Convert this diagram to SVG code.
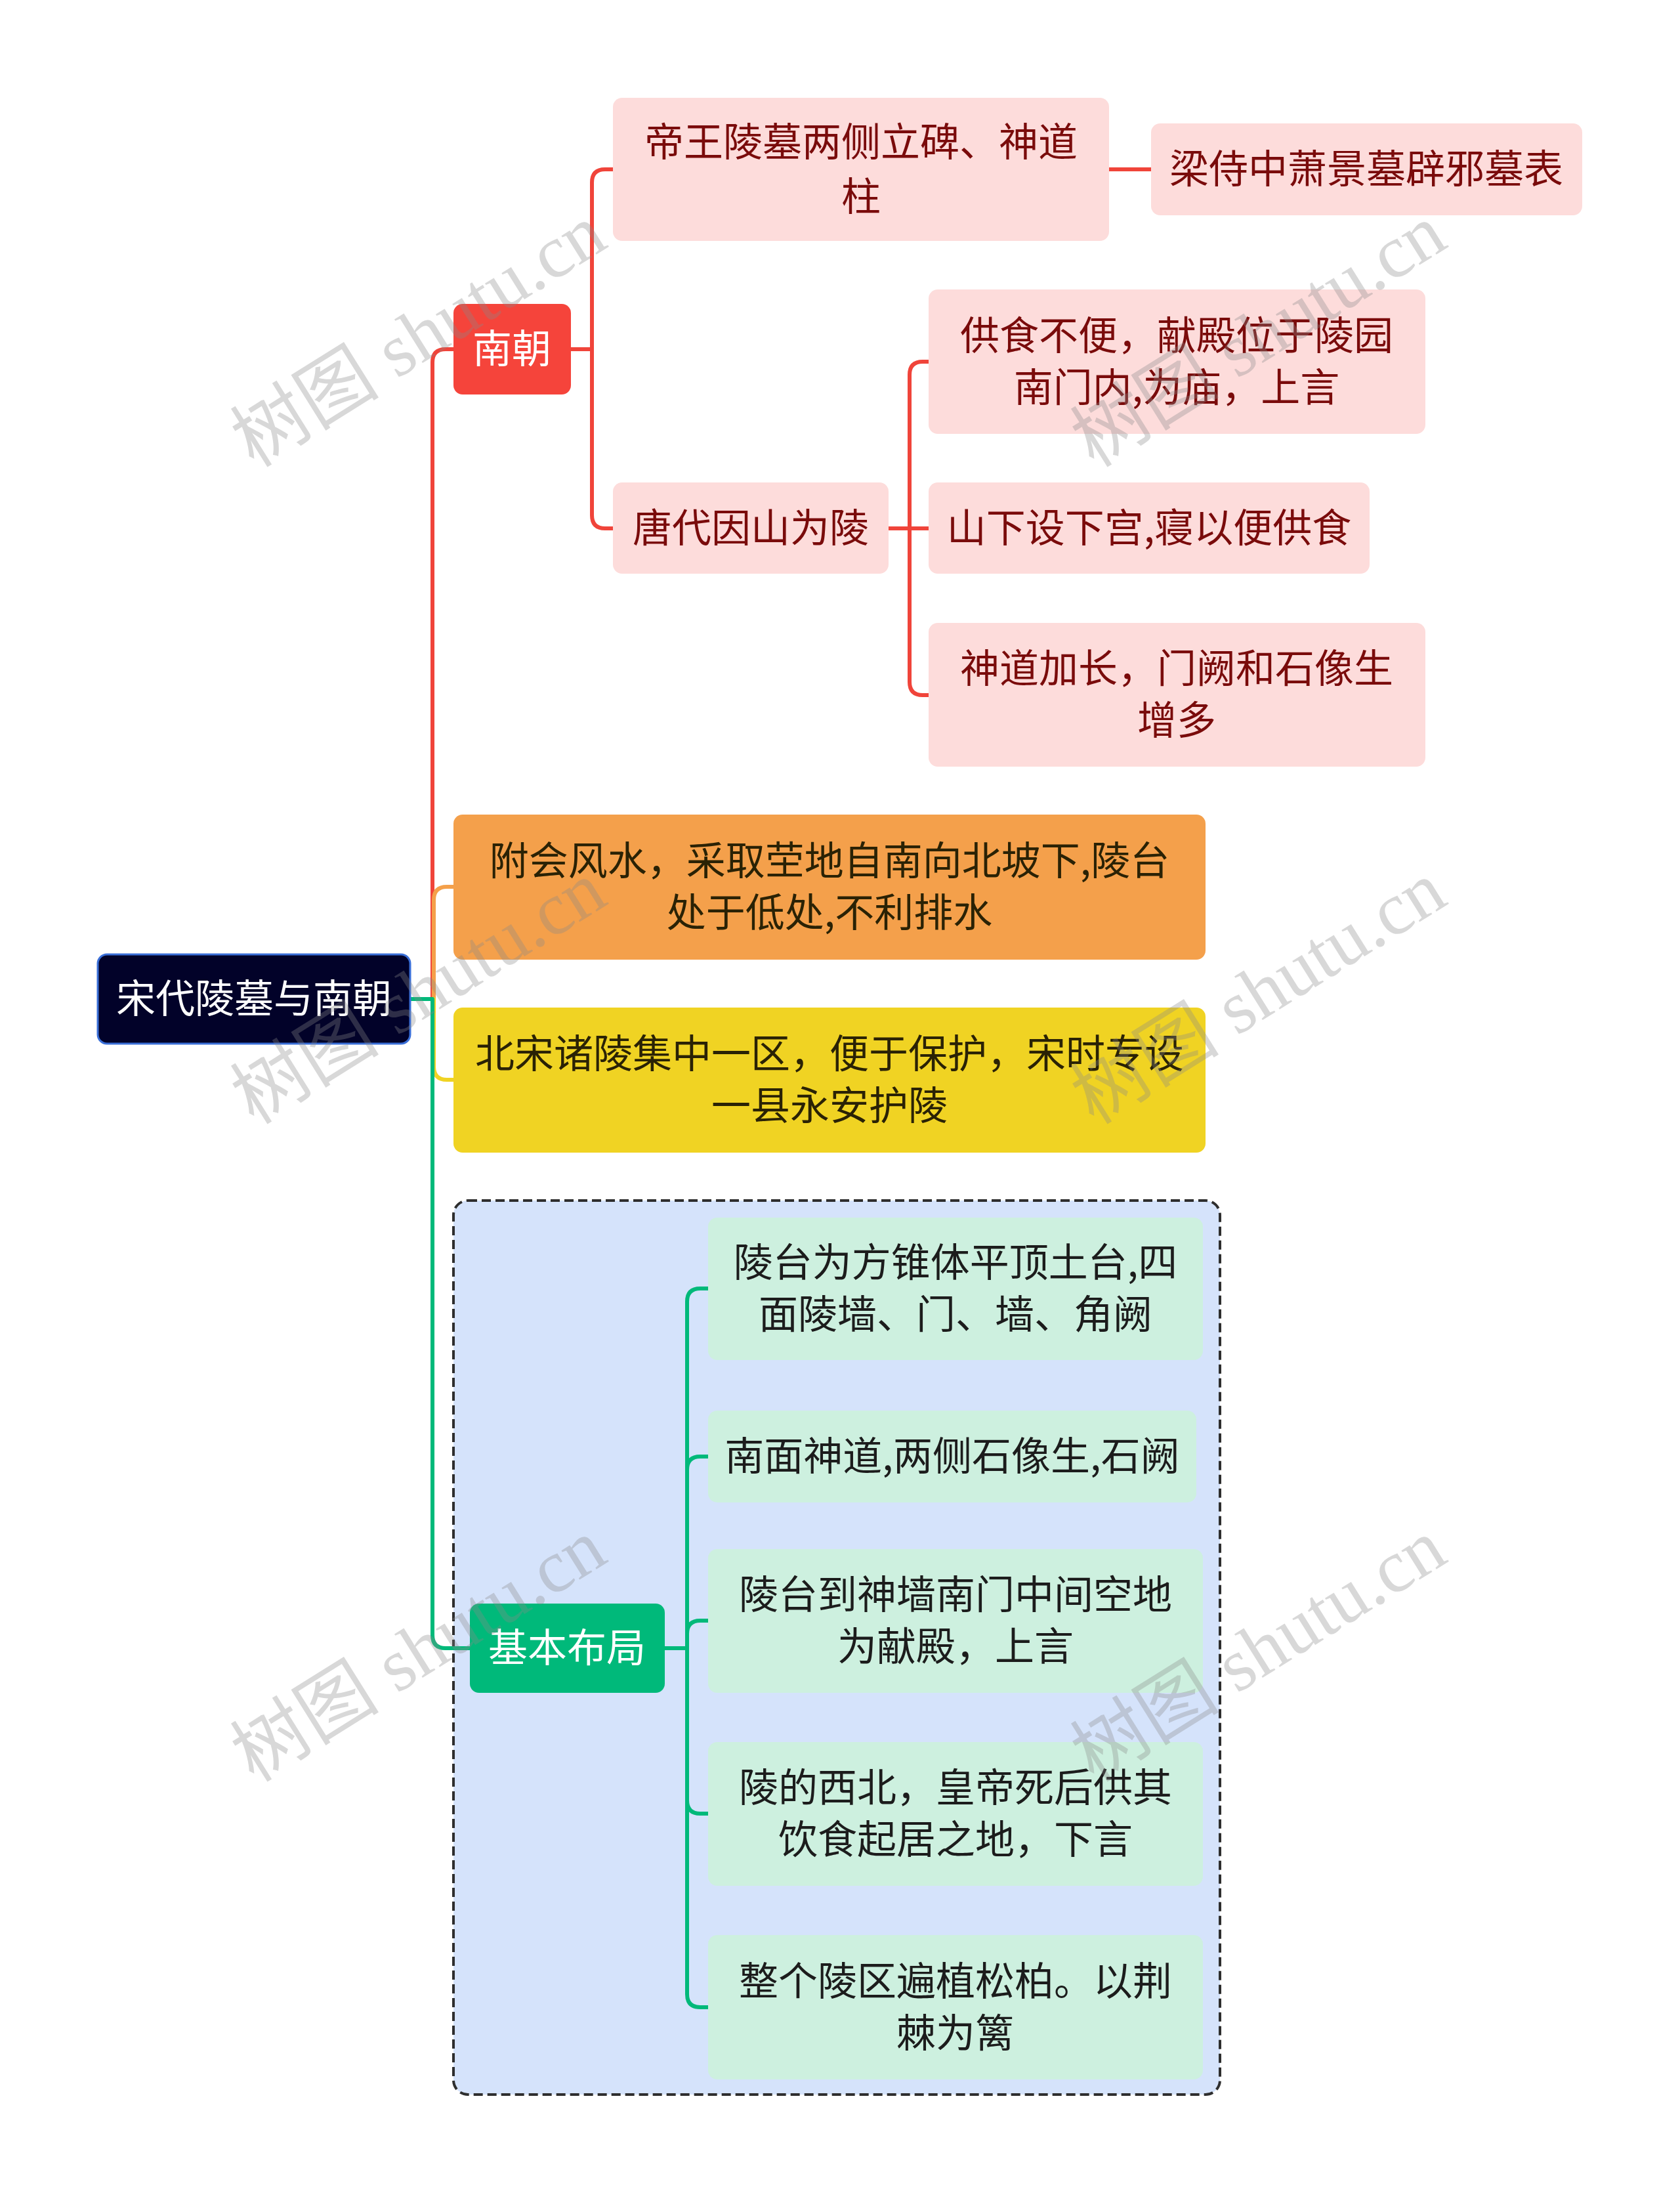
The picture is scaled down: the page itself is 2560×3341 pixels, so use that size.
<svg xmlns="http://www.w3.org/2000/svg" width="2560" height="3341" viewBox="0 0 2560 3341">
<style>
.t{font-family:"Noto Sans CJK SC","Noto Sans",sans-serif;font-size:60px;text-anchor:middle}
.w{fill:#ffffff}
.pk{fill:#7a0b0b}
.dk{fill:#2a2205}
.gt{fill:#1c1c1c}
.pkb{fill:#fddcdb}
.gb{fill:#cdf0df}
.c{fill:none;stroke-width:6;stroke-linecap:round;stroke-linejoin:round}
.wm{font-family:"Liberation Serif","Noto Sans CJK SC",serif;font-size:114px;fill:#8a8a8a;fill-opacity:0.33;text-anchor:middle}
</style>
<rect width="2560" height="3341" fill="#ffffff"/>
<g id="container">
<rect x="691" y="1829" width="1168" height="1362" rx="22" fill="#d5e3fb" stroke="#2e2e2e" stroke-width="4" stroke-dasharray="14 7"/>
</g>
<g id="connectors">
<path class="c" stroke="#f0443a" d="M625 1522 H659 V552 Q659 532 679 532 H691"/>
<path class="c" stroke="#f4a04a" d="M625 1522 H661 V1371 Q661 1351 681 1351 H691"/>
<path class="c" stroke="#f0d323" d="M625 1522 H661 V1625 Q661 1645 681 1645 H691"/>
<path class="c" stroke="#00b97a" d="M625 1522 H659 V2491 Q659 2511 679 2511 H716"/>
<path class="c" stroke="#f0443a" d="M870 532 H902 V278 Q902 258 922 258 H934"/>
<path class="c" stroke="#f0443a" d="M870 532 H902 V785 Q902 805 922 805 H934"/>
<path class="c" stroke="#f0443a" d="M1690 258 H1754"/>
<path class="c" stroke="#f0443a" d="M1354 805 H1386 V571 Q1386 551 1406 551 H1415"/>
<path class="c" stroke="#f0443a" d="M1354 805 H1415"/>
<path class="c" stroke="#f0443a" d="M1354 805 H1386 V1039 Q1386 1059 1406 1059 H1415"/>
<path class="c" stroke="#00b97a" d="M1013 2511 H1047 V1983 Q1047 1963 1067 1963 H1079"/>
<path class="c" stroke="#00b97a" d="M1013 2511 H1047 V2239 Q1047 2219 1067 2219 H1079"/>
<path class="c" stroke="#00b97a" d="M1013 2511 H1047 V2489 Q1047 2469 1067 2469 H1079"/>
<path class="c" stroke="#00b97a" d="M1013 2511 H1047 V2743 Q1047 2763 1067 2763 H1079"/>
<path class="c" stroke="#00b97a" d="M1013 2511 H1047 V3038 Q1047 3058 1067 3058 H1079"/>
</g>
<g id="root">
<rect x="149" y="1454" width="476" height="136" rx="14" fill="#020229" stroke="#3a6fd8" stroke-width="3"/>
<text class="t w" x="387" y="1543">宋代陵墓与南朝</text>
</g>
<g id="nanchao">
<rect x="691" y="463" width="179" height="138" rx="14" fill="#f5443b"/>
<text class="t w" x="780" y="553">南朝</text>
</g>
<g id="diwang">
<rect class="pkb" x="934" y="149" width="756" height="218" rx="14"/>
<text class="t pk" x="1312" y="238">帝王陵墓两侧立碑、神道</text>
<text class="t pk" x="1312" y="321">柱</text>
</g>
<g id="liang">
<rect class="pkb" x="1754" y="188" width="657" height="140" rx="14"/>
<text class="t pk" x="2082" y="279">梁侍中萧景墓辟邪墓表</text>
</g>
<g id="tangdai">
<rect class="pkb" x="934" y="735" width="420" height="139" rx="14"/>
<text class="t pk" x="1144" y="826">唐代因山为陵</text>
</g>
<g id="gongshi">
<rect class="pkb" x="1415" y="441" width="757" height="220" rx="14"/>
<text class="t pk" x="1793" y="533">供食不便，献殿位于陵园</text>
<text class="t pk" x="1793" y="612">南门内,为庙，上言</text>
</g>
<g id="shanxia">
<rect class="pkb" x="1415" y="735" width="672" height="139" rx="14"/>
<text class="t pk" x="1751" y="826">山下设下宫,寝以便供食</text>
</g>
<g id="shendao">
<rect class="pkb" x="1415" y="949" width="757" height="219" rx="14"/>
<text class="t pk" x="1793" y="1040">神道加长，门阙和石像生</text>
<text class="t pk" x="1793" y="1119">增多</text>
</g>
<g id="fuhui">
<rect x="691" y="1241" width="1146" height="221" rx="14" fill="#f4a04b"/>
<text class="t dk" x="1264" y="1333">附会风水，采取茔地自南向北坡下,陵台</text>
<text class="t dk" x="1264" y="1412">处于低处,不利排水</text>
</g>
<g id="beisong">
<rect x="691" y="1535" width="1146" height="221" rx="14" fill="#f0d323"/>
<text class="t dk" x="1264" y="1627">北宋诸陵集中一区，便于保护，宋时专设</text>
<text class="t dk" x="1264" y="1706">一县永安护陵</text>
</g>
<g id="jiben">
<rect x="716" y="2443" width="297" height="136" rx="14" fill="#00b97a"/>
<text class="t w" x="864" y="2532">基本布局</text>
</g>
<g id="g1">
<rect class="gb" x="1079" y="1855" width="754" height="217" rx="14"/>
<text class="t gt" x="1456" y="1945">陵台为方锥体平顶土台,四</text>
<text class="t gt" x="1456" y="2024">面陵墙、门、墙、角阙</text>
</g>
<g id="g2">
<rect class="gb" x="1079" y="2149" width="744" height="140" rx="14"/>
<text class="t gt" x="1451" y="2240">南面神道,两侧石像生,石阙</text>
</g>
<g id="g3">
<rect class="gb" x="1079" y="2360" width="754" height="219" rx="14"/>
<text class="t gt" x="1456" y="2451">陵台到神墙南门中间空地</text>
<text class="t gt" x="1456" y="2530">为献殿，上言</text>
</g>
<g id="g4">
<rect class="gb" x="1079" y="2654" width="754" height="219" rx="14"/>
<text class="t gt" x="1456" y="2745">陵的西北，皇帝死后供其</text>
<text class="t gt" x="1456" y="2824">饮食起居之地，下言</text>
</g>
<g id="g5">
<rect class="gb" x="1079" y="2948" width="754" height="220" rx="14"/>
<text class="t gt" x="1456" y="3040">整个陵区遍植松柏。以荆</text>
<text class="t gt" x="1456" y="3119">棘为篱</text>
</g>
<g id="watermarks">
<text class="wm" transform="translate(638 512) rotate(-32)" y="38">树图 shutu.cn</text>
<text class="wm" transform="translate(1918 512) rotate(-32)" y="38">树图 shutu.cn</text>
<text class="wm" transform="translate(638 1513) rotate(-32)" y="38">树图 shutu.cn</text>
<text class="wm" transform="translate(1918 1513) rotate(-32)" y="38">树图 shutu.cn</text>
<text class="wm" transform="translate(638 2515) rotate(-32)" y="38">树图 shutu.cn</text>
<text class="wm" transform="translate(1918 2515) rotate(-32)" y="38">树图 shutu.cn</text>
</g>
</svg>
